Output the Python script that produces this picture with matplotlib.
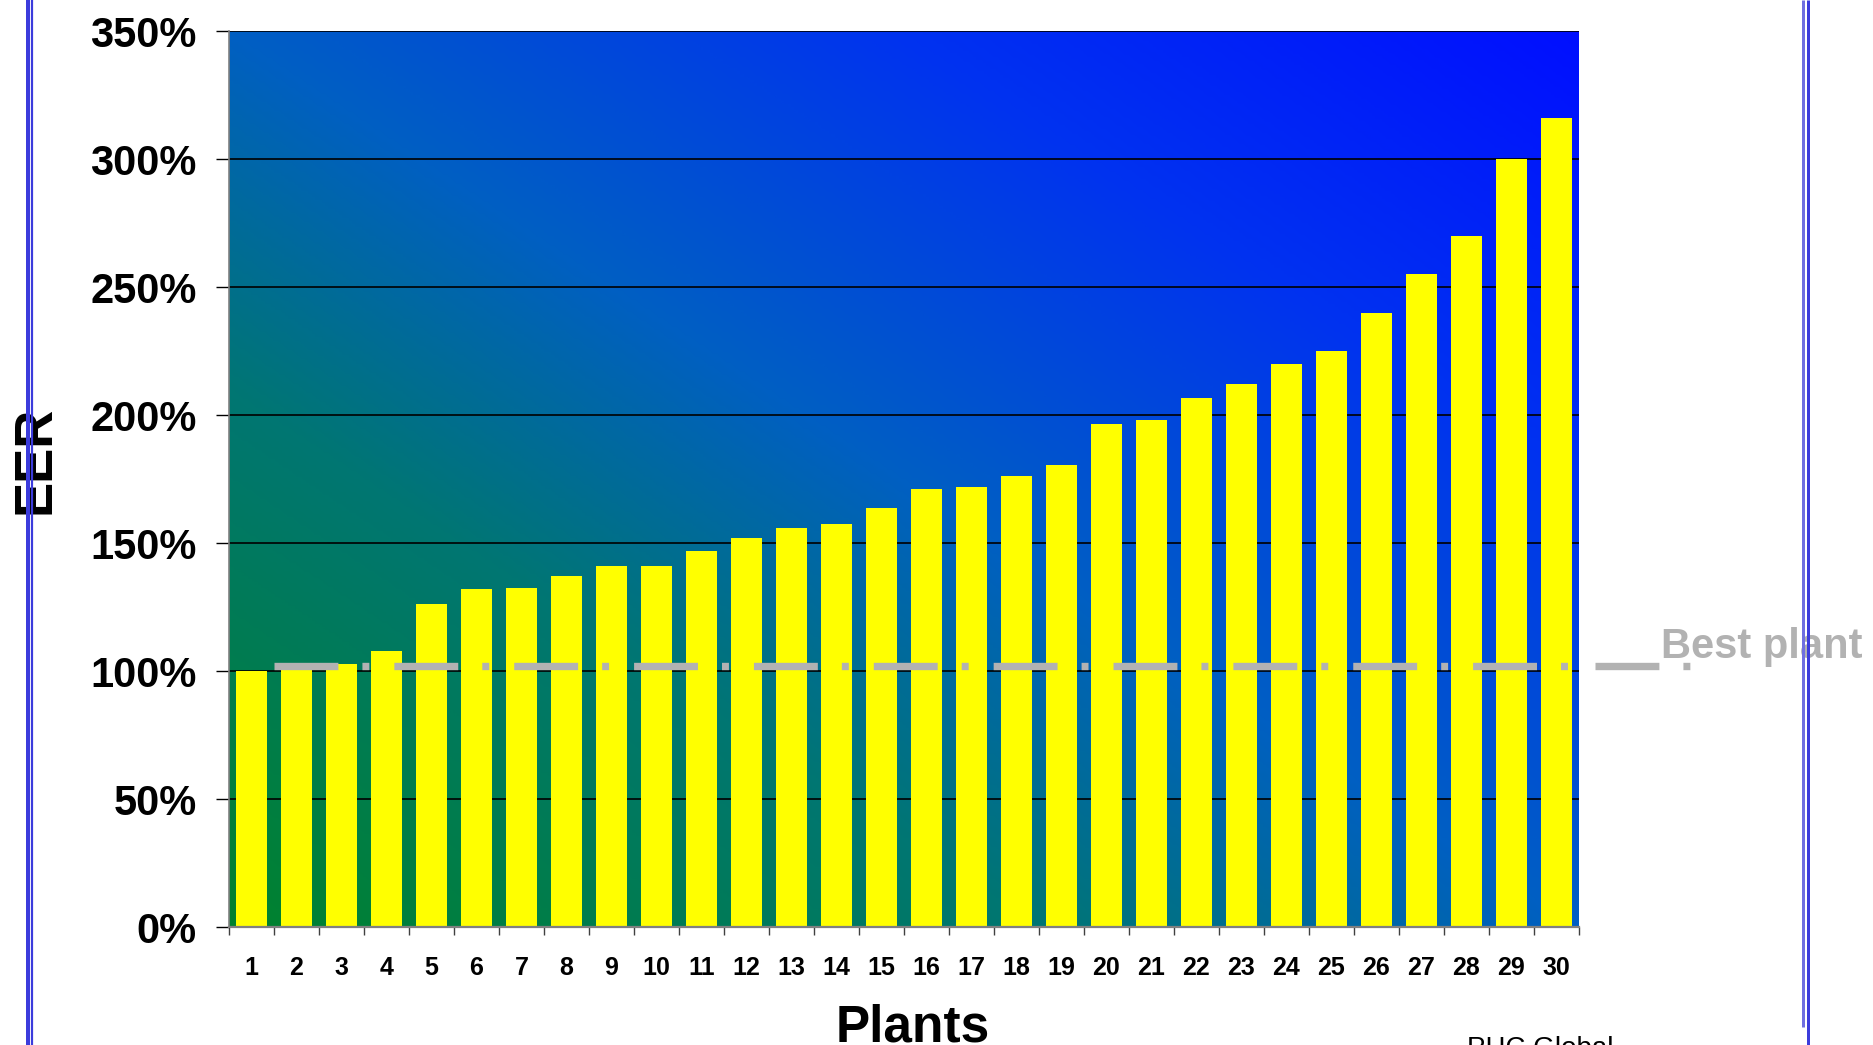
import numpy as np
import matplotlib
matplotlib.use("Agg")
import matplotlib.pyplot as plt
from matplotlib.colors import LinearSegmentedColormap
from matplotlib.lines import Line2D
from matplotlib.ticker import FuncFormatter, MultipleLocator

plt.rcParams['font.family'] = ['Liberation Sans', 'DejaVu Sans']
plt.rcParams['font.weight'] = 'bold'
plt.rcParams['lines.scale_dashes'] = False

# ---- data ----
plants = list(range(1, 31))
eer = [1.000, 1.015, 1.029, 1.080, 1.263, 1.321, 1.325, 1.372, 1.411, 1.411,
       1.470, 1.521, 1.560, 1.575, 1.638, 1.712, 1.720, 1.763, 1.806, 1.966,
       1.982, 2.068, 2.122, 2.200, 2.251, 2.400, 2.552, 2.700, 3.001, 3.161]
best_plant = 1.022
y_ticks = [0, 0.5, 1.0, 1.5, 2.0, 2.5, 3.0, 3.5]
legend_label = "Best plant"

W, H = 1874, 1045
fig = plt.figure(figsize=(W / 100, H / 100), dpi=100)
fig.patch.set_facecolor('white')

ax_l, ax_r, ax_t, ax_b = 229, 1579, 31.3, 927.3
ax = fig.add_axes([ax_l / W, 1 - ax_b / H, (ax_r - ax_l) / W, (ax_b - ax_t) / H])

# gradient background
stops = [(0.0, (0/255, 130/255, 45/255)),
         (0.3, (0/255, 118/255, 115/255)),
         (0.5, (0/255, 95/255, 195/255)),
         (0.75, (0/255, 50/255, 240/255)),
         (1.0, (0/255, 15/255, 255/255))]
cmap = LinearSegmentedColormap.from_list('bg', stops)
nx, ny = 400, 300
xx, yy = np.meshgrid(np.linspace(0, 1, nx), np.linspace(1, 0, ny))
tt = (xx + yy) / 2
ax.imshow(tt, cmap=cmap, vmin=0, vmax=1, extent=[0, 1, 0, 1],
          transform=ax.transAxes, aspect='auto', zorder=0, interpolation='bilinear')

ax.set_xlim(0.5, 30.5)
ax.set_ylim(0, 3.5)

ax.bar(plants, eer, width=0.69, color='#FFFF00', edgecolor='none', zorder=2)

ln = ax.hlines(best_plant, 1.5, 30.5, colors='#B2B2B2', linewidth=5.3, zorder=3)
ln.set_linestyle((0, (46, 17.3, 5, 18)))
ln.set_capstyle('butt')

# grid
ax.set_axisbelow(True)
ax.set_yticks(y_ticks)
ax.yaxis.grid(True, color='black', linewidth=1.2, zorder=0.5)
ax.yaxis.set_major_formatter(FuncFormatter(lambda v, p: f"{v*100:.0f}%"))
ax.tick_params(axis='y', direction='out', length=9.4, width=1, color='black',
               pad=14, labelsize=30)
ax.set_xticks(plants)
ax.set_xticklabels([str(p) for p in plants])
ax.xaxis.set_minor_locator(MultipleLocator(1, offset=0.5))
ax.tick_params(axis='x', which='major', length=0, pad=21, labelsize=18)
ax.tick_params(axis='x', which='minor', length=6, width=1, color='#404040')
for lab in ax.get_xticklabels() + ax.get_yticklabels():
    lab.set_fontweight('bold')

for s in ['top', 'right']:
    ax.spines[s].set_visible(False)
ax.spines['left'].set_color('#808080')
ax.spines['left'].set_linewidth(1.2)
ax.spines['bottom'].set_color('#808080')
ax.spines['bottom'].set_linewidth(1.6)

ax.set_ylabel('EER', fontsize=38, fontweight='bold', va='center')
ax.yaxis.set_label_coords((35 - ax_l) / (ax_r - ax_l), 0.522)
ax.set_xlabel('Plants', fontsize=37, fontweight='bold', va='baseline')
ax.xaxis.set_label_coords((913 - ax_l) / (ax_r - ax_l), (ax_b - 1041) / (ax_b - ax_t))

# legend key (manual)
ly = 1 - 666 / H
leg = Line2D([1595 / W, 1691 / W], [ly, ly], transform=fig.transFigure,
             color='#B2B2B2', linewidth=5.3, linestyle=(0, (46, 17.3, 5, 18)),
             dash_capstyle='butt', zorder=3)
fig.add_artist(leg)
fig.text(1661 / W, 1 - 658 / H, legend_label, fontsize=30, fontweight='bold',
         color='#B2B2B2', ha='left', va='baseline', zorder=4)

# page border lines
def vline(x, w, c, y0=0, y1=H):
    fig.add_artist(Line2D([x / W, x / W], [1 - y0 / H, 1 - y1 / H], transform=fig.transFigure,
                          color=c, linewidth=w * 0.72, solid_capstyle='butt', zorder=5))

vline(28, 4, '#3C3CDC')
vline(32.2, 2.2, '#3C3CDC')
vline(1803.5, 3, '#7070E0', 0, 1027)
vline(1808.5, 3, '#3C3CDC')

# bottom footer (cut off)
fig.text(1467 / W, 1 - 1036 / H, 'PHC Global', fontsize=20, color='black',
         fontweight='normal', ha='left', va='top')

fig.savefig('out.png', dpi=100, facecolor='white')
